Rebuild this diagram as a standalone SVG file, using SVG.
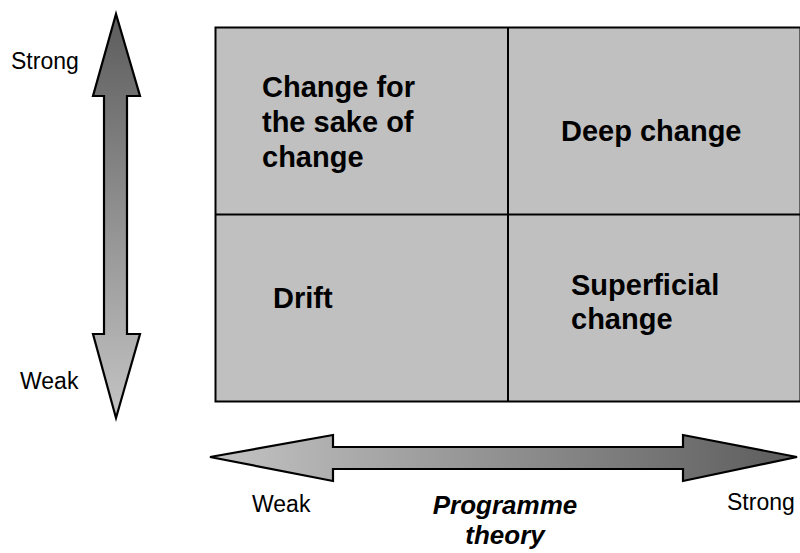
<svg xmlns="http://www.w3.org/2000/svg" width="800" height="553" viewBox="0 0 800 553">
<defs>
<linearGradient id="gv" x1="0" y1="0" x2="0" y2="1">
<stop offset="0" stop-color="#5c5c5c"/>
<stop offset="1" stop-color="#c4c4c4"/>
</linearGradient>
<linearGradient id="gh" x1="0" y1="0" x2="1" y2="0">
<stop offset="0" stop-color="#c4c4c4"/>
<stop offset="1" stop-color="#5c5c5c"/>
</linearGradient>
<style>
.cell{fill:#c0c0c0;stroke:#000;stroke-width:2}
.q{font-family:"Liberation Sans",Arial,sans-serif;font-weight:bold;font-size:29px;fill:#000}
.ax{font-family:"Liberation Sans",Arial,sans-serif;font-size:23px;fill:#000}
.arr{stroke:#000;stroke-width:2.2;stroke-linejoin:miter}
</style>
</defs>
<g id="grid">
<rect class="cell" x="215.5" y="27.5" width="585" height="374"/>
<line x1="508" y1="27.5" x2="508" y2="401.5" stroke="#000" stroke-width="2"/>
<line x1="215.5" y1="214.5" x2="800" y2="214.5" stroke="#000" stroke-width="2"/>
</g>
<g id="q-change-for-sake">
<text class="q" x="262" y="97">Change for</text>
<text class="q" x="262" y="132">the sake of</text>
<text class="q" x="262" y="167">change</text>
</g>
<g id="q-deep">
<text class="q" x="561" y="141">Deep change</text>
</g>
<g id="q-drift">
<text class="q" x="273" y="308">Drift</text>
</g>
<g id="q-superficial">
<text class="q" x="571" y="295">Superficial</text>
<text class="q" x="571" y="329">change</text>
</g>
<g id="connectors">
<path class="arr" fill="url(#gv)" d="M116,14 L140,96 L127,96 L127,334 L140,334 L116,418 L93,334 L104,334 L104,96 L93,96 Z"/>
<path class="arr" fill="url(#gh)" d="M210,457 L333,435 L333,447 L683,447 L683,435 L797,457 L683,481 L683,469 L333,469 L333,481 Z"/>
</g>
<g id="labels">
<text class="ax" x="11" y="69">Strong</text>
<text class="ax" x="20" y="389">Weak</text>
<text class="ax" x="252" y="512">Weak</text>
<text class="ax" x="727" y="510">Strong</text>
<text x="505" y="514" text-anchor="middle" font-family="Liberation Sans, Arial, sans-serif" font-weight="bold" font-style="italic" font-size="26">Programme</text>
<text x="505" y="544" text-anchor="middle" font-family="Liberation Sans, Arial, sans-serif" font-weight="bold" font-style="italic" font-size="26">theory</text>
</g>
</svg>
